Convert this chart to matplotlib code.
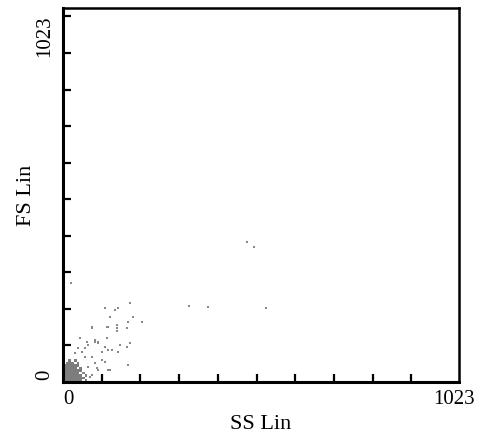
import numpy as np
import matplotlib.pyplot as plt
from matplotlib.colors import ListedColormap
from matplotlib.transforms import ScaledTranslation

# sparse events (SS Lin, FS Lin), channel units 0..1023
ss = [475, 493, 325, 375, 524, 21,
      173, 108, 134, 142, 181, 204, 168, 121, 139, 139, 139, 114, 75, 165,
      44, 83, 90, 114, 147, 173, 165, 127, 142, 101, 65, 57, 168, 101, 88, 121, 70,
      75, 116, 44, 62, 65, 83, 90, 101, 109, 39, 49, 31, 57, 75, 83, 65, 90, 116,
      52, 75, 109, 116]
fs = [383, 369, 208, 205, 202, 271,
      216, 202, 197, 202, 178, 164, 164, 178, 156, 148, 139, 150, 148, 148,
      120, 115, 109, 120, 101, 107, 96, 88, 82, 82, 101, 93, 46, 60, 38, 33, 14,
      150, 150, 120, 109, 101, 109, 107, 82, 96, 93, 82, 79, 68, 68, 52, 41, 33, 33,
      25, 19, 55, 88]

# dense core occupancy, 7-channel bins, row 0 = lowest FS
core = np.array([
    [1, 1, 1, 1, 1, 1, 1, 0, 1, 0],
    [1, 1, 1, 1, 1, 1, 1, 1, 0, 0],
    [1, 1, 1, 1, 1, 1, 1, 0, 1, 0],
    [1, 1, 1, 1, 1, 1, 0, 1, 0, 0],
    [1, 1, 1, 1, 1, 1, 1, 0, 0, 0],
    [1, 1, 1, 1, 1, 0, 1, 0, 0, 0],
    [1, 1, 1, 1, 1, 1, 0, 0, 0, 0],
    [0, 1, 1, 1, 0, 1, 0, 0, 0, 0],
    [0, 0, 1, 0, 1, 0, 0, 0, 0, 0],
])
bin_w = 7

plt.rcParams['font.family'] = 'Liberation Serif'
fig = plt.figure(figsize=(4.78, 4.34), dpi=100)
ax = fig.add_axes([0.1318, 0.1198, 0.8285, 0.8618])

edges_x = np.arange(core.shape[1] + 1) * bin_w
edges_y = np.arange(core.shape[0] + 1) * bin_w
ax.pcolormesh(edges_x, edges_y, np.ma.masked_equal(core, 0),
              cmap=ListedColormap(['#7d7d7d']), vmin=0, vmax=1)
ax.scatter(ss, fs, s=4, marker='s', c='#888888', linewidths=0)

ax.set_xlim(0, 1023)
ax.set_ylim(0, 1023)
ax.set_xticks([0, 1023])
ax.set_yticks([0, 1023])
ax.set_xticks(np.arange(100, 1000, 100), minor=True)
ax.set_yticks(np.arange(100, 1001, 100), minor=True)
ax.tick_params(which='major', length=0, labelsize=15, pad=6)
ax.tick_params(axis='y', which='major', labelrotation=90)
ax.tick_params(which='minor', direction='in', length=6, width=1.6,
               top=False, right=False)

# end labels: nudge them the way the instrument software places them
xl = ax.get_xticklabels()
xl[0].set_ha('left')
xl[1].set_transform(xl[1].get_transform() + ScaledTranslation(-5 / 100, 0, fig.dpi_scale_trans))
yl = ax.get_yticklabels()
yl[0].set_va('bottom')
yl[0].set_transform(yl[0].get_transform() + ScaledTranslation(0, 2 / 100, fig.dpi_scale_trans))
yl[1].set_va('top')
yl[1].set_transform(yl[1].get_transform() + ScaledTranslation(0, -7 / 100, fig.dpi_scale_trans))

for side in ['left', 'bottom']:
    ax.spines[side].set_linewidth(2.2)
for side in ['top', 'right']:
    ax.spines[side].set_linewidth(1.8)

ax.set_xlabel('SS Lin', fontsize=16, labelpad=4)
ax.set_ylabel('FS Lin', fontsize=16, labelpad=0)

fig.savefig('out.png', dpi=100)
